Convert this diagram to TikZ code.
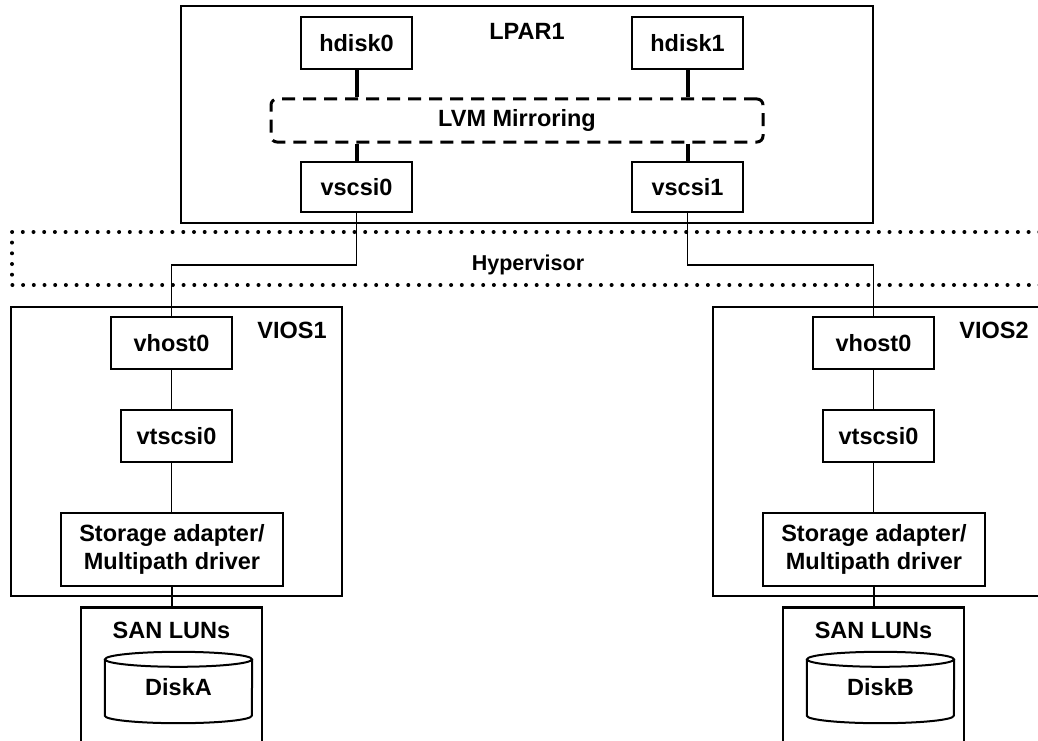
\documentclass[tikz,border=0pt]{standalone}
\usepackage{fontspec}
\setmainfont{Liberation Sans}
\begin{document}
\begin{tikzpicture}[x=1pt, y=-1pt,
    every node/.style={font=\fontsize{23.5}{28}\selectfont\bfseries, inner sep=0pt},
    box/.style={draw, line width=2pt, minimum width=111pt, minimum height=52pt},
    frame/.style={draw, line width=2.5pt},
    mirror/.style={draw, line width=3pt, dash pattern=on 13pt off 8pt, rounded corners=6pt,
                   minimum width=492pt, minimum height=43pt},
    hyperline/.style={line width=4pt, line cap=round, dash pattern=on 0pt off 10.7pt},
    wire/.style={line width=1.5pt},
    thickwire/.style={line width=4pt}]

    \useasboundingbox (0,0) rectangle (1038,741);
    \clip (0,0) rectangle (1038,741);

    % LPAR1
    \node[frame, minimum width=692pt, minimum height=217pt] (lpar) at (527,114.5) {};
    \node (lparlabel) at (527,31) {LPAR1};
    \node[box] (hdiskA) at (356.5,43) {hdisk0};
    \node[box] (hdiskB) at (687.5,43) {hdisk1};
    \node[mirror] (lvm) at (517,120.5) {LVM Mirroring};
    \node[box, minimum height=50pt] (vscsiA) at (356.5,187) {vscsi0};
    \node[box, minimum height=50pt] (vscsiB) at (687.5,187) {vscsi1};

    \draw[thickwire] (hdiskA.south) -- (hdiskA.south |- lvm.north);
    \draw[thickwire] (hdiskB.south) -- (hdiskB.south |- lvm.north);
    \draw[thickwire] (vscsiA.north |- lvm.south) -- (vscsiA.north);
    \draw[thickwire] (vscsiB.north |- lvm.south) -- (vscsiB.north);

    % Hypervisor
    \draw[hyperline] (1050,232) -- (12,232) -- (12,285) -- (1050,285);
    \node[font=\fontsize{21.5}{24}\selectfont\bfseries] (hyp) at (528,265) {Hypervisor};

    % VIOS1 and VIOS2
    \foreach \dx/\n/\d in {0/1/A, 702/2/B} {
        \node[frame, minimum width=331pt, minimum height=289pt] (vios\d) at (176.5+\dx,451.5) {};
        \node (vioslabel\d) at (292+\dx,330) {VIOS\n};
        \node[box, minimum width=121pt] (vhost\d) at (171.5+\dx,343) {vhost0};
        \node[box] (vts\d) at (176.5+\dx,436) {vtscsi0};
        \node[box, minimum width=222pt, minimum height=73pt, align=center] (stor\d) at (172+\dx,549.5)
            {Storage adapter/\\Multipath driver};
        \node[frame, minimum width=181pt, minimum height=160pt, anchor=north] (lun\d) at (171.5+\dx,606) {};
        \node (lunlabel\d) at (171.5+\dx,630) {SAN LUNs};
        \node[minimum width=147pt, minimum height=56pt] (disk\d) at (178.5+\dx,687.5) {Disk\d};
        \draw[line width=2pt] (disk\d.north west) -- (disk\d.south west)
            arc[start angle=180, end angle=0, x radius=73.5, y radius=7.5] -- (disk\d.north east);
        \draw[line width=2pt] (disk\d.north) ellipse[x radius=73.5, y radius=7.5];

        \draw[wire] (vhost\d.south) -- (vhost\d.south |- vts\d.north);
        \draw[wire] (vhost\d.south |- vts\d.south) -- (vhost\d.south |- stor\d.north);
        \draw[wire] (stor\d.south) -- (stor\d.south |- lun\d.north);
    }

    \draw[wire] (vscsiA.south) -- (vscsiA.south |- hyp) -| (vhostA.north);
    \draw[wire] (vscsiB.south) -- (vscsiB.south |- hyp) -| (vhostB.north);

\end{tikzpicture}
\end{document}
